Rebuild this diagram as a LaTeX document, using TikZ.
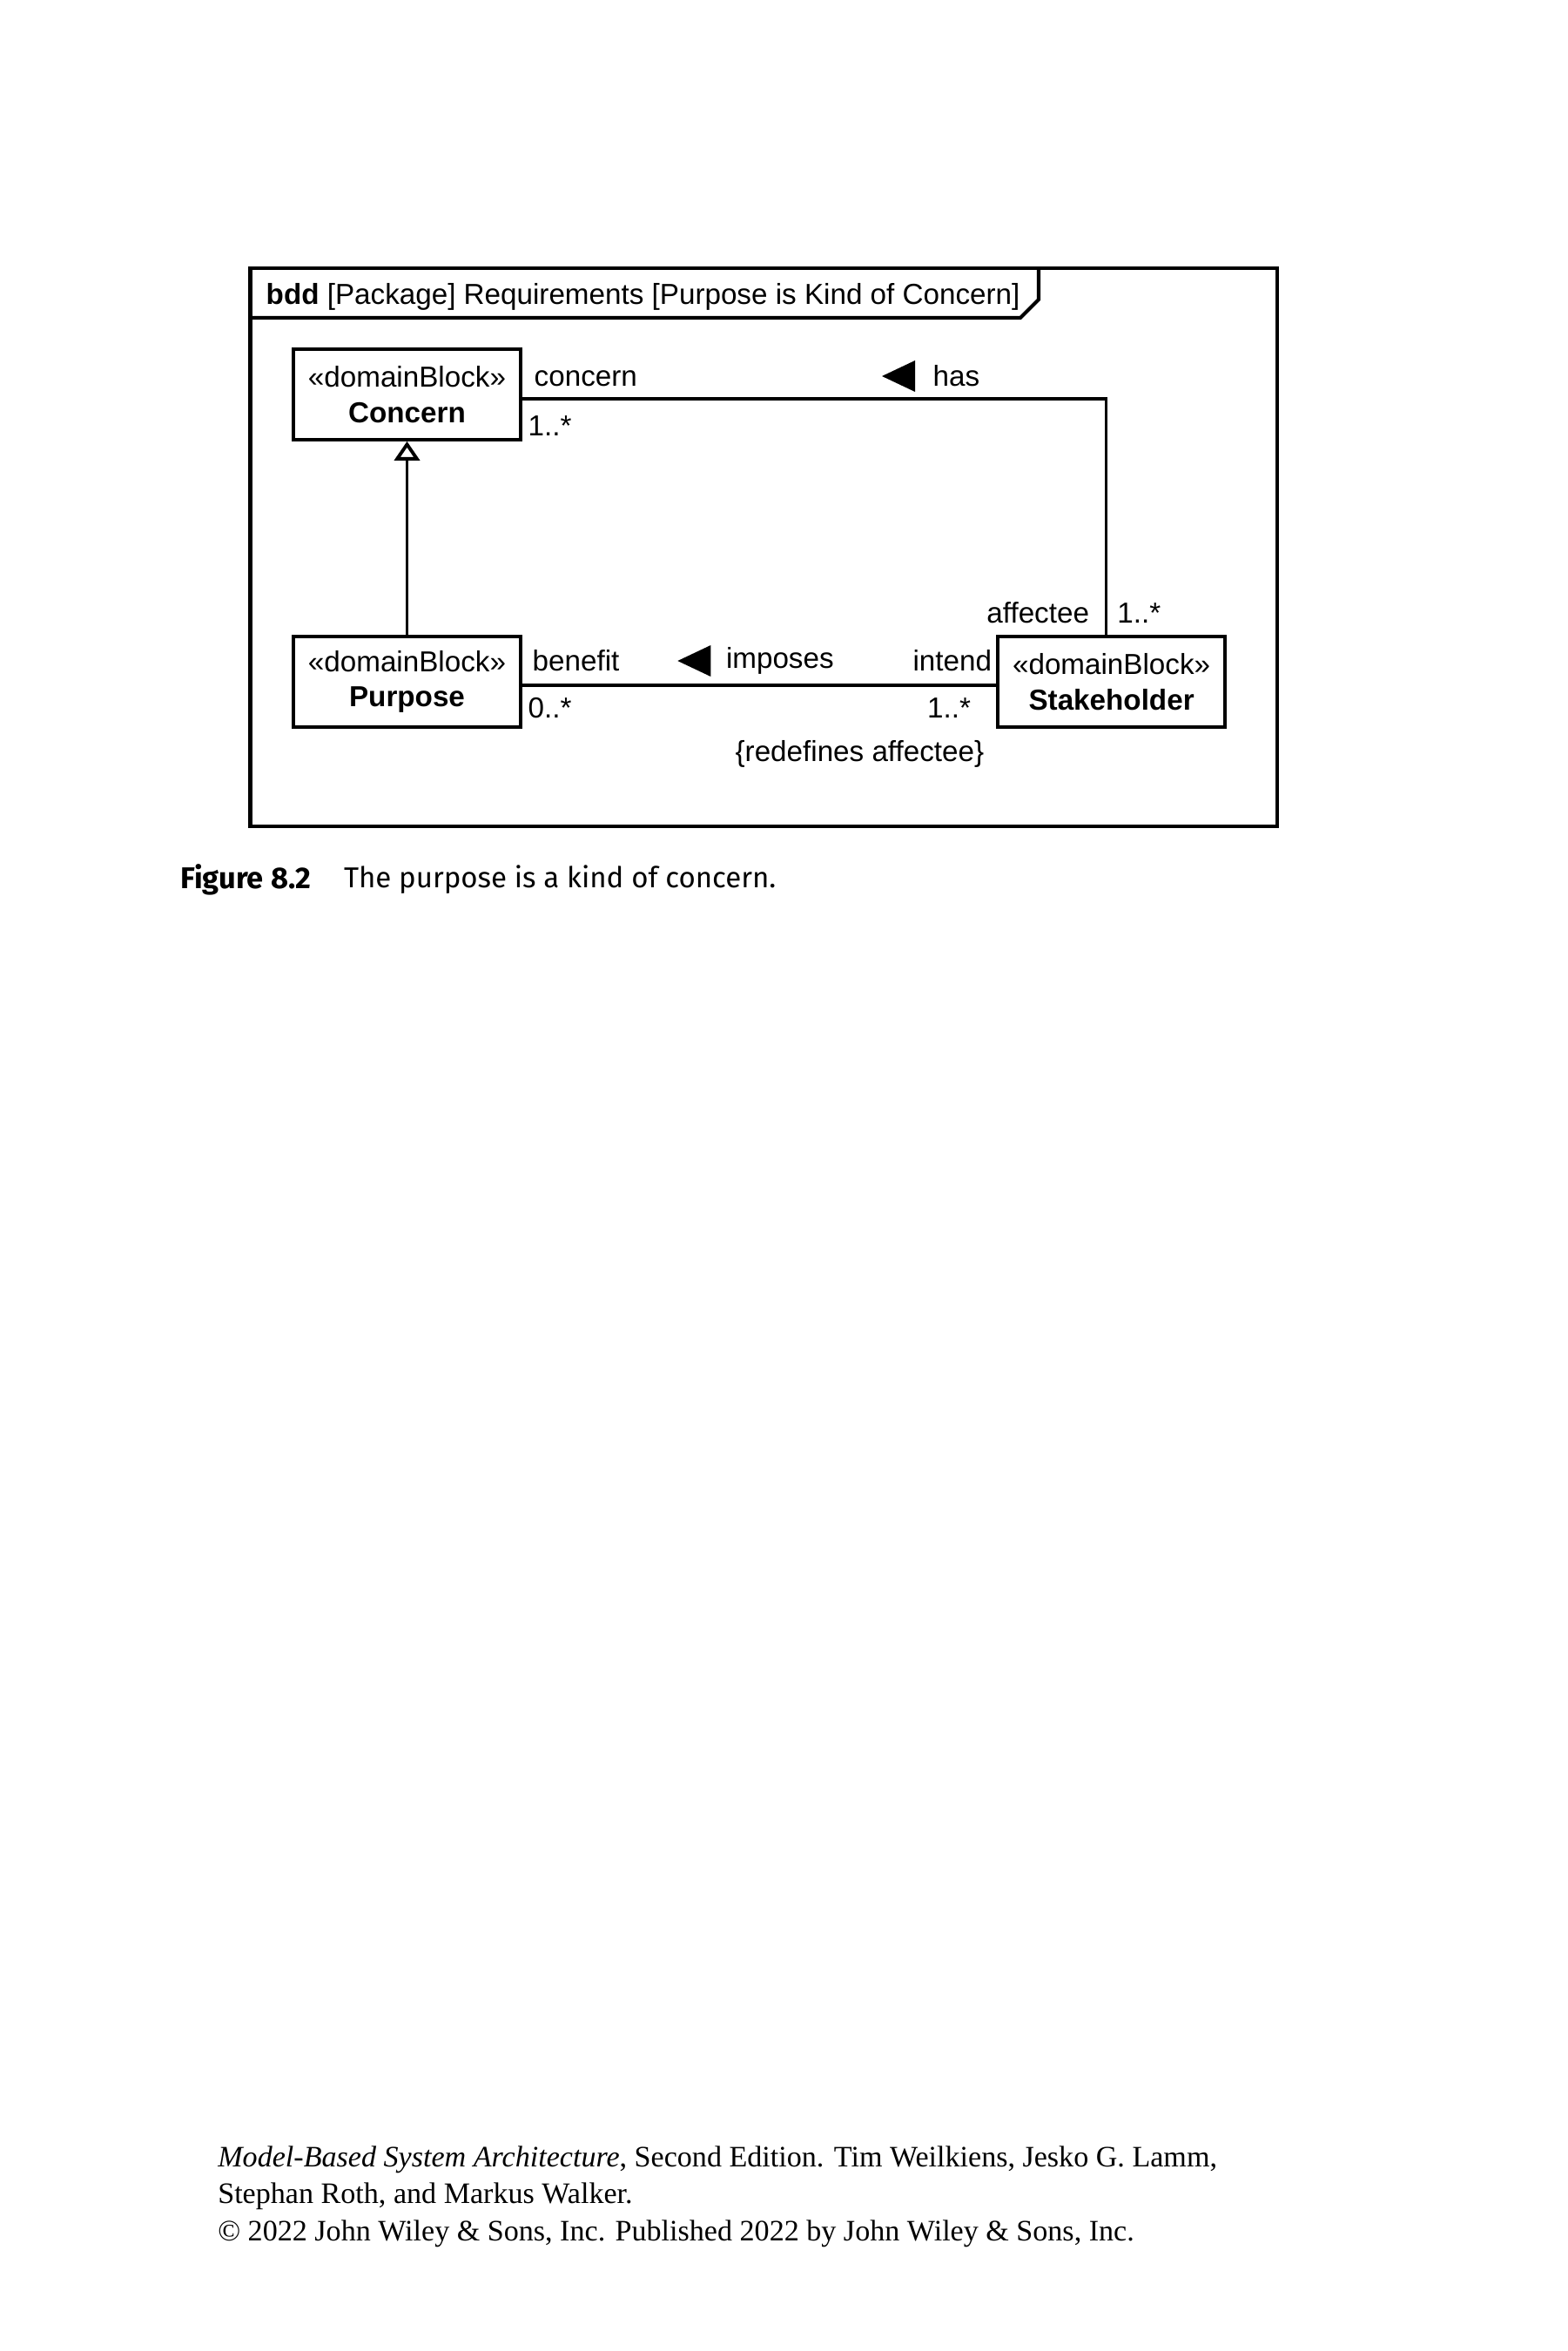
\documentclass[tikz,border=0pt]{standalone}
\usepackage{fontspec}
\setmainfont{Liberation Serif}
\newfontfamily\diagfont{Liberation Sans}
\newfontfamily\capfont{Fira Sans}
\usetikzlibrary{calc,arrows.meta}
\newcommand{\mysize}{\fontsize{9.45}{11.5}\selectfont}
\newcommand{\stereo}[1]{«domainBlock»\\\textbf{#1}}
\def\blockwdth{2.61}
\def\blockhght{1.035}

\tikzset{
  block/.style={draw, line width=1.2pt, minimum width=\blockwdth cm, minimum height=\blockhght cm,
    align=center, inner sep=0pt, font=\diagfont\mysize},
  lbl/.style={inner sep=0pt, font=\diagfont\mysize},
  assoc/.style={line width=1pt}
}

\begin{document}
\begin{tikzpicture}
\useasboundingbox (0,0) rectangle (18,-27);

% FRAME
\coordinate (frametl) at (2.875,-3.08);
\coordinate (framebr) at (14.67,-9.49);
\draw[line width=1.2pt] (frametl) rectangle (framebr);
\draw[line width=1.2pt] ($(frametl)+(0,-0.57)$) -- (11.72,-3.65) -- (11.93,-3.44) -- (11.93,-3.08);
\node[lbl, anchor=west] (title) at (3.05,-3.41) {\textbf{bdd} [Package] Requirements [Purpose is Kind of Concern]};

% BLOCKS
\node[block] (concern) at (4.675,-4.53) {\stereo{Concern}};
\node[block] (purpose) at (4.675,-7.83) {\stereo{Purpose}};
\node[block] (stake) at (12.766,-7.83) {\stereo{Stakeholder}};

% GENERALIZATION
\draw[assoc, -{Triangle[open, length=0.22cm, width=0.29cm, line width=1.1pt]}] (purpose.north) -- (concern.south);

% HAS
\coordinate (hasbend) at (12.706,-4.58);
\draw[assoc] (concern.east |- hasbend) -- (hasbend) -- (hasbend |- stake.north);
\node[lbl, anchor=west] (concernrole) at (6.13,-4.35) {concern};
\node[lbl, anchor=west] (concernmult) at (6.06,-4.89) {1..*};
\node[lbl, anchor=west] (has) at (10.71,-4.32) {has};
\fill ($(has.west)+(-0.58,0)$) -- ($(has.west)+(-0.20,0.18)$) -- ($(has.west)+(-0.20,-0.18)$) -- cycle;
\node[lbl, anchor=east] (affectee) at (12.517,-7.04) {affectee};
\node[lbl, anchor=west] (affecteemult) at (12.827,-7.04) {1..*};

% IMPOSES
\coordinate (impline) at (8,-7.868);
\draw[assoc] (purpose.east |- impline) -- (stake.west |- impline);
\node[lbl, anchor=west] (benefit) at (6.11,-7.59) {benefit};
\node[lbl, anchor=west] (benefitmult) at (6.06,-8.126) {0..*};
\node[lbl, anchor=west] (imposes) at (8.333,-7.59) {imposes};
\fill ($(imposes.west)+(-0.55,0)$) -- ($(imposes.west)+(-0.17,0.18)$) -- ($(imposes.west)+(-0.17,-0.18)$) -- cycle;
\node[lbl, anchor=east] (intend) at (11.398,-7.59) {intend};
\node[lbl, anchor=east] (intendmult) at (11.157,-8.126) {1..*};
\node[lbl] (redef) at (9.874,-8.66) {\{redefines affectee\}};

% CAPTION
\node[anchor=west, inner sep=0pt, font=\capfont\fontsize{9.8}{12}\selectfont] (fignum) at (2.066,-10.106) {\textbf{Figure 8.2}};
\node[anchor=west, inner sep=0pt, font=\capfont\fontsize{9.4}{12}\selectfont] (captxt) at (3.943,-10.106) {The purpose is a kind of concern.};

% FOOTER
\node[anchor=north west, inner sep=0pt, align=left, font=\fontsize{9.7}{12.1}\selectfont] (footer) at (2.496,-24.64) {\textit{Model-Based System Architecture}, Second Edition. Tim Weilkiens, Jesko G. Lamm,\\
Stephan Roth, and Markus Walker.\\
© 2022 John Wiley \& Sons, Inc. Published 2022 by John Wiley \& Sons, Inc.};
\end{tikzpicture}
\end{document}
